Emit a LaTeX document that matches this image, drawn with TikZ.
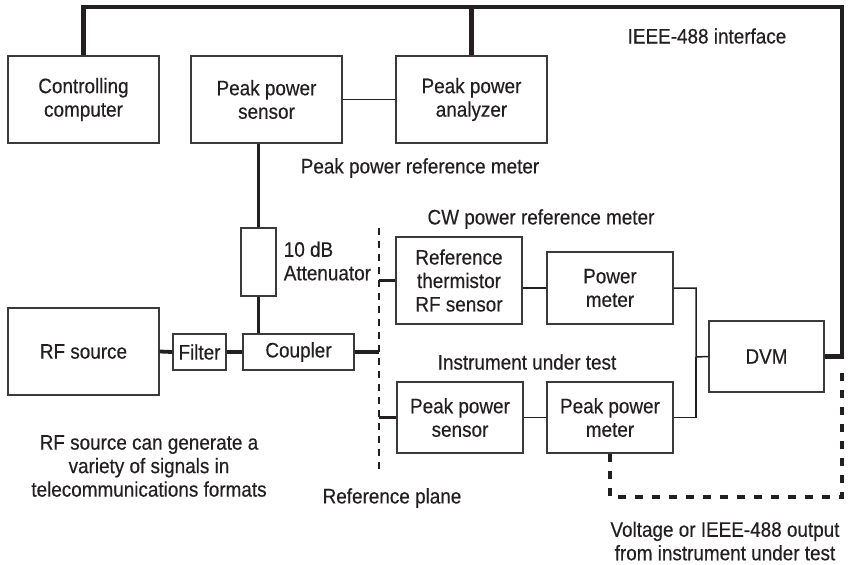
\documentclass[tikz,border=0pt]{standalone}
\usepackage{fontspec}
\setmainfont{Liberation Sans}[FakeStretch=0.9,FakeBold=0.4]
\usepackage{tikz}
\usetikzlibrary{positioning,calc}
\definecolor{Ink}{HTML}{231F20}
\definecolor{Frame}{HTML}{3A3A3A}
\tikzset{
blockbox/.style={draw=Frame, line width=1.2pt, align=center, inner sep=0pt, text=Ink},
sigline/.style={draw=Ink, line width=3.8pt},
busline/.style={draw=Ink, line width=4.5pt},
linkline/.style={draw=Ink, line width=1.5pt},
planeline/.style={draw=Ink, line width=1.3pt, dash pattern=on 7pt off 6pt},
outdash/.style={draw=Ink, line width=4.5pt, dash pattern=on 8pt off 9pt},
notelabel/.style={text=Ink, align=center, inner sep=0pt}
}
\begin{document}
\begin{tikzpicture}[x=1pt, y=-1pt, font=\fontsize{21}{23.5}\selectfont]
  \useasboundingbox (0,0) rectangle (852,565);
  % top row
  \node[blockbox, minimum width=151pt, minimum height=87pt] (comp) at (83.5,99.5) {Controlling\\computer};
  \node[blockbox, minimum width=151pt, minimum height=87pt] (ppsens) at (266.5,99.5) {Peak power\\sensor};
  \node[blockbox, minimum width=151pt, minimum height=87pt] (ppana) at (471.5,99.5) {Peak power\\analyzer};
  % signal path
  \node[blockbox, minimum width=151pt, minimum height=87pt] (rfsrc) at (83.5,351.5) {RF source};
  \node[blockbox, minimum width=53pt, minimum height=36pt] (filter) at (199.5,352) {Filter};
  \node[blockbox, minimum width=111pt, minimum height=36pt] (coupler) at (298.5,352) {Coupler};
  \node[blockbox, minimum width=35pt, minimum height=68pt] (atten) at (258.5,262) {};
  % meters
  \node[blockbox, minimum width=126pt, minimum height=87pt] (refsens) at (459,280.5) {Reference\\thermistor\\RF sensor};
  \node[blockbox, minimum width=126pt, minimum height=72pt] (pwrmeter) at (610,288) {Power\\meter};
  \node[blockbox, minimum width=115pt, minimum height=71pt] (dvm) at (766.5,356.5) {DVM};
  \node[blockbox, minimum width=126pt, minimum height=71pt] (iutsens) at (460,417.5) {Peak power\\sensor};
  \node[blockbox, minimum width=126pt, minimum height=71pt] (iutmeter) at (610,417.5) {Peak power\\meter};
  % labels
  \node[notelabel] (ieeelbl) at (707,36) {IEEE-488 interface};
  \node[notelabel] (refmlbl) at (420,168) {Peak power reference meter};
  \node[notelabel, align=left, anchor=west] (attlbl) at ($(atten.east)+(7,-1)$) {10 dB\\Attenuator};
  \node[notelabel] (cwlbl) at (541,219) {CW power reference meter};
  \node[notelabel] (iutlbl) at (527,362) {Instrument under test};
  \node[notelabel] (planelbl) at (392,498) {Reference plane};
  \node[notelabel] (rflbl) at (149,466) {RF source can generate a\\variety of signals in\\telecommunications formats};
  \node[notelabel] (outlbl) at (725,541) {Voltage or IEEE-488 output\\from instrument under test};
  % coordinates
  \coordinate (busNE) at (842,7);
  \coordinate (join) at (696,357);
  \coordinate (planetop) at (379,228);
  \coordinate (planebot) at (379,473);
  \coordinate (outSE) at (842,497);
  \coordinate (outend) at (842,372);
  % connectors
  \draw[busline] (comp.north) |- (busNE) |- (dvm.east);
  \draw[busline] (ppana.north) -- (ppana.north |- busNE);
  \draw[linkline] (ppsens.east) -- (ppana.west);
  \draw[sigline] (atten.north) -- (atten.north |- ppsens.south);
  \draw[sigline] (atten.south) -- (atten.south |- coupler.north);
  \draw[sigline] (rfsrc.east) -- (filter.west);
  \draw[sigline] (filter.east) -- (coupler.west);
  \draw[sigline] (coupler.east) -- (coupler.east -| planetop);
  \draw[planeline] (planetop) -- (planebot);
  \draw[sigline] (refsens.west) -- (refsens.west -| planetop);
  \draw[sigline] (iutsens.west) -- (iutsens.west -| planetop);
  \draw[linkline] (refsens.east |- pwrmeter.west) -- (pwrmeter.west);
  \draw[linkline] (iutsens.east) -- (iutmeter.west);
  \draw[linkline] (pwrmeter.east) -| (join) -- (dvm.west);
  \draw[linkline] (iutmeter.east) -| (join);
  \draw[outdash] (iutmeter.south) |- (outSE) -- (outend);
\end{tikzpicture}
\end{document}
